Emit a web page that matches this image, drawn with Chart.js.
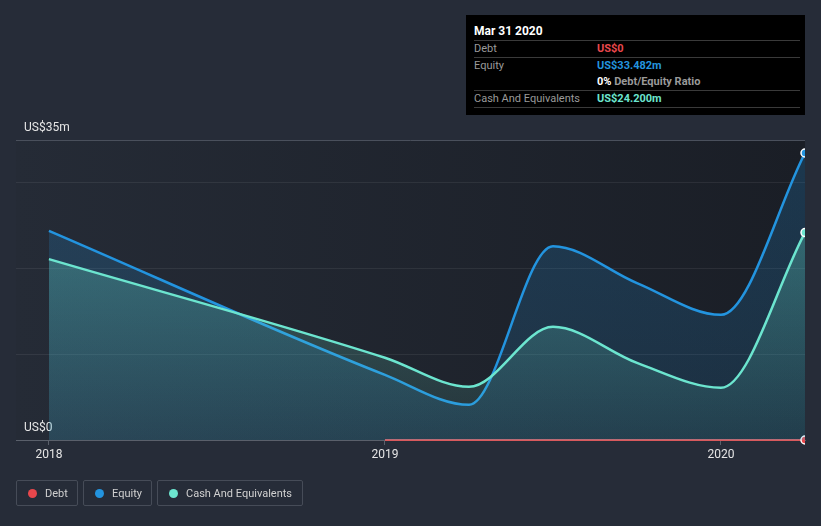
<!DOCTYPE html>
<html>
<head>
<meta charset="utf-8">
<script src="https://cdn.jsdelivr.net/npm/chart.js@4/dist/chart.umd.min.js"></script>
<style>
  html, body { margin:0; padding:0; background:#262c38; }
  body { width:821px; height:526px; position:relative; overflow:hidden; font-family: Roboto, "Noto Sans", sans-serif; }
  #c { position:absolute; left:0; top:0; }
  .tip { position:absolute; left:466px; top:15px; width:339px; height:100px; background:#000; color:#9a9a9a; font-size:11px; }
  .tip .title { position:absolute; left:8px; top:9px; color:#fff; font-weight:bold; font-size:12px; }
  .tip .sep { position:absolute; left:8px; width:326px; height:1px; background:#3a3a3a; }
  .tip .lab { position:absolute; left:8px; }
  .tip .val { position:absolute; left:131px; font-weight:bold; }
  .legend { position:absolute; top:480px; height:26px; border:1px solid #464c58; border-radius:2px; color:#d0d0d0; font-size:11px; line-height:25px; box-sizing:border-box; padding-left:28px; }
  .legend .dot { position:absolute; left:11px; top:8px; width:9px; height:9px; border-radius:50%; }
</style>
</head>
<body>
<canvas id="c" width="821" height="526"></canvas>

<div class="tip">
  <div class="title">Mar 31 2020</div>
  <div class="sep" style="top:25px"></div>
  <div class="lab" style="top:27px">Debt</div><div class="val" style="top:27px;color:#e8474c">US$0</div>
  <div class="sep" style="top:42px"></div>
  <div class="lab" style="top:44px">Equity</div><div class="val" style="top:44px;color:#2394df">US$33.482m</div>
  <div class="val" style="top:60px;color:#fff">0% <span style="color:#9a9a9a">Debt/Equity Ratio</span></div>
  <div class="sep" style="top:75px"></div>
  <div class="lab" style="top:77px">Cash And Equivalents</div><div class="val" style="top:77px;color:#6ce5cf">US$24.200m</div>
  <div class="sep" style="top:92px"></div>
</div>

<div class="legend" style="left:16px;width:62px"><span class="dot" style="background:#e8474c"></span>Debt</div>
<div class="legend" style="left:83px;width:69px"><span class="dot" style="background:#2394df"></span>Equity</div>
<div class="legend" style="left:157px;width:146px"><span class="dot" style="background:#6ce5cf"></span>Cash And Equivalents</div>

<script>
// Data (x in decimal years, values in US$ millions)
const dates = [2018.0, 2019.0, 2019.25, 2019.5, 2019.75, 2020.0, 2020.25];
const equity = [24.4, 7.6, 4.1, 22.6, 18.3, 14.6, 33.482];
const cash = [21.1, 9.6, 6.2, 13.2, 9.0, 6.1, 24.2];
const debtDates = [2019.0, 2020.25];
const debt = [0, 0];
const xTicks = [2018, 2019, 2020];
const yTicks = [0, 10, 20, 30, 35];
const yLabels = {0: 'US$0', 35: 'US$35m'};

const toPts = (xs, ys) => xs.map((x, i) => ({x: x, y: ys[i]}));
const lastOnly = (n, r) => Array.from({length: n}, (_, i) => i === n - 1 ? r : 0);

const bgPlugin = {
  id: 'plotBg',
  beforeDraw(chart) {
    const {ctx, chartArea: a} = chart;
    const g = ctx.createLinearGradient(a.left, 0, a.right, 0);
    g.addColorStop(0, '#252b36');
    g.addColorStop(1, '#1a1e26');
    ctx.save();
    ctx.fillStyle = g;
    ctx.fillRect(a.left, a.top, a.right - a.left, a.bottom - a.top);
    ctx.restore();
  }
};

function vGrad(ctx, area, top, bottom) {
  if (!area) return top;
  const g = ctx.createLinearGradient(0, area.top, 0, area.bottom);
  g.addColorStop(0, top);
  g.addColorStop(1, bottom);
  return g;
}

new Chart(document.getElementById('c'), {
  type: 'line',
  data: {
    datasets: [
      {
        label: 'Cash And Equivalents',
        data: toPts(dates, cash),
        borderColor: '#6ce5cf',
        borderWidth: 2.5,
        backgroundColor: (c) => vGrad(c.chart.ctx, c.chart.chartArea, 'rgba(108,229,207,0.38)', 'rgba(108,229,207,0.08)'),
        fill: 'origin',
        cubicInterpolationMode: 'monotone',
        pointRadius: lastOnly(dates.length, 4),
        pointBackgroundColor: '#6ce5cf',
        pointBorderColor: '#ffffff',
        pointBorderWidth: 1.5,
        clip: {left: 0, top: 0, right: 0, bottom: 0}
      },
      {
        label: 'Equity',
        data: toPts(dates, equity),
        borderColor: '#2394df',
        borderWidth: 2.5,
        backgroundColor: (c) => vGrad(c.chart.ctx, c.chart.chartArea, 'rgba(35,148,223,0.22)', 'rgba(35,148,223,0.14)'),
        fill: 'origin',
        cubicInterpolationMode: 'monotone',
        pointRadius: lastOnly(dates.length, 4),
        pointBackgroundColor: '#2394df',
        pointBorderColor: '#ffffff',
        pointBorderWidth: 1.5,
        clip: {left: 0, top: 0, right: 0, bottom: 0}
      },
      {
        label: 'Debt',
        data: toPts(debtDates, debt),
        borderColor: '#d9595c',
        borderWidth: 2,
        fill: false,
        pointRadius: lastOnly(debtDates.length, 4),
        pointBackgroundColor: '#e8474c',
        pointBorderColor: '#ffffff',
        pointBorderWidth: 1.5,
        clip: {left: 0, top: 0, right: 0, bottom: 6}
      }
    ]
  },
  options: {
    responsive: false,
    animation: false,
    events: [],
    layout: { padding: { left: 16, right: 16, top: 140, bottom: 0 } },
    plugins: { legend: { display: false }, tooltip: { enabled: false } },
    scales: {
      x: {
        type: 'linear',
        min: 2017.902,
        max: 2020.25,
        afterBuildTicks: (axis) => { axis.ticks = xTicks.map(v => ({value: v})); },
        afterFit: (axis) => { axis.height = 86; },
        grid: { drawOnChartArea: false, drawTicks: true, tickLength: 5, color: '#5a606b' },
        border: { display: true, color: '#5a606b', width: 1 },
        ticks: { color: '#e6e6e6', font: { family: 'Roboto', size: 12 }, padding: 3, maxRotation: 0, callback: (v) => String(v) }
      },
      y: {
        min: 0,
        max: 35,
        afterBuildTicks: (axis) => { axis.ticks = yTicks.map(v => ({value: v})); },
        afterFit: (axis) => { axis.width = 0; },
        grid: {
          drawTicks: false,
          color: (c) => c.tick && c.tick.value === 35 ? '#4a505c' : (c.tick && c.tick.value === 0 ? 'rgba(0,0,0,0)' : 'rgba(255,255,255,0.07)'),
          lineWidth: 1
        },
        border: { display: false },
        ticks: {
          mirror: true,
          padding: 8,
          labelOffset: -12,
          color: '#e6e6e6',
          font: { family: 'Roboto', size: 12 },
          callback: (v) => yLabels[v] !== undefined ? yLabels[v] : ''
        }
      }
    }
  },
  plugins: [bgPlugin]
});
</script>
</body>
</html>
